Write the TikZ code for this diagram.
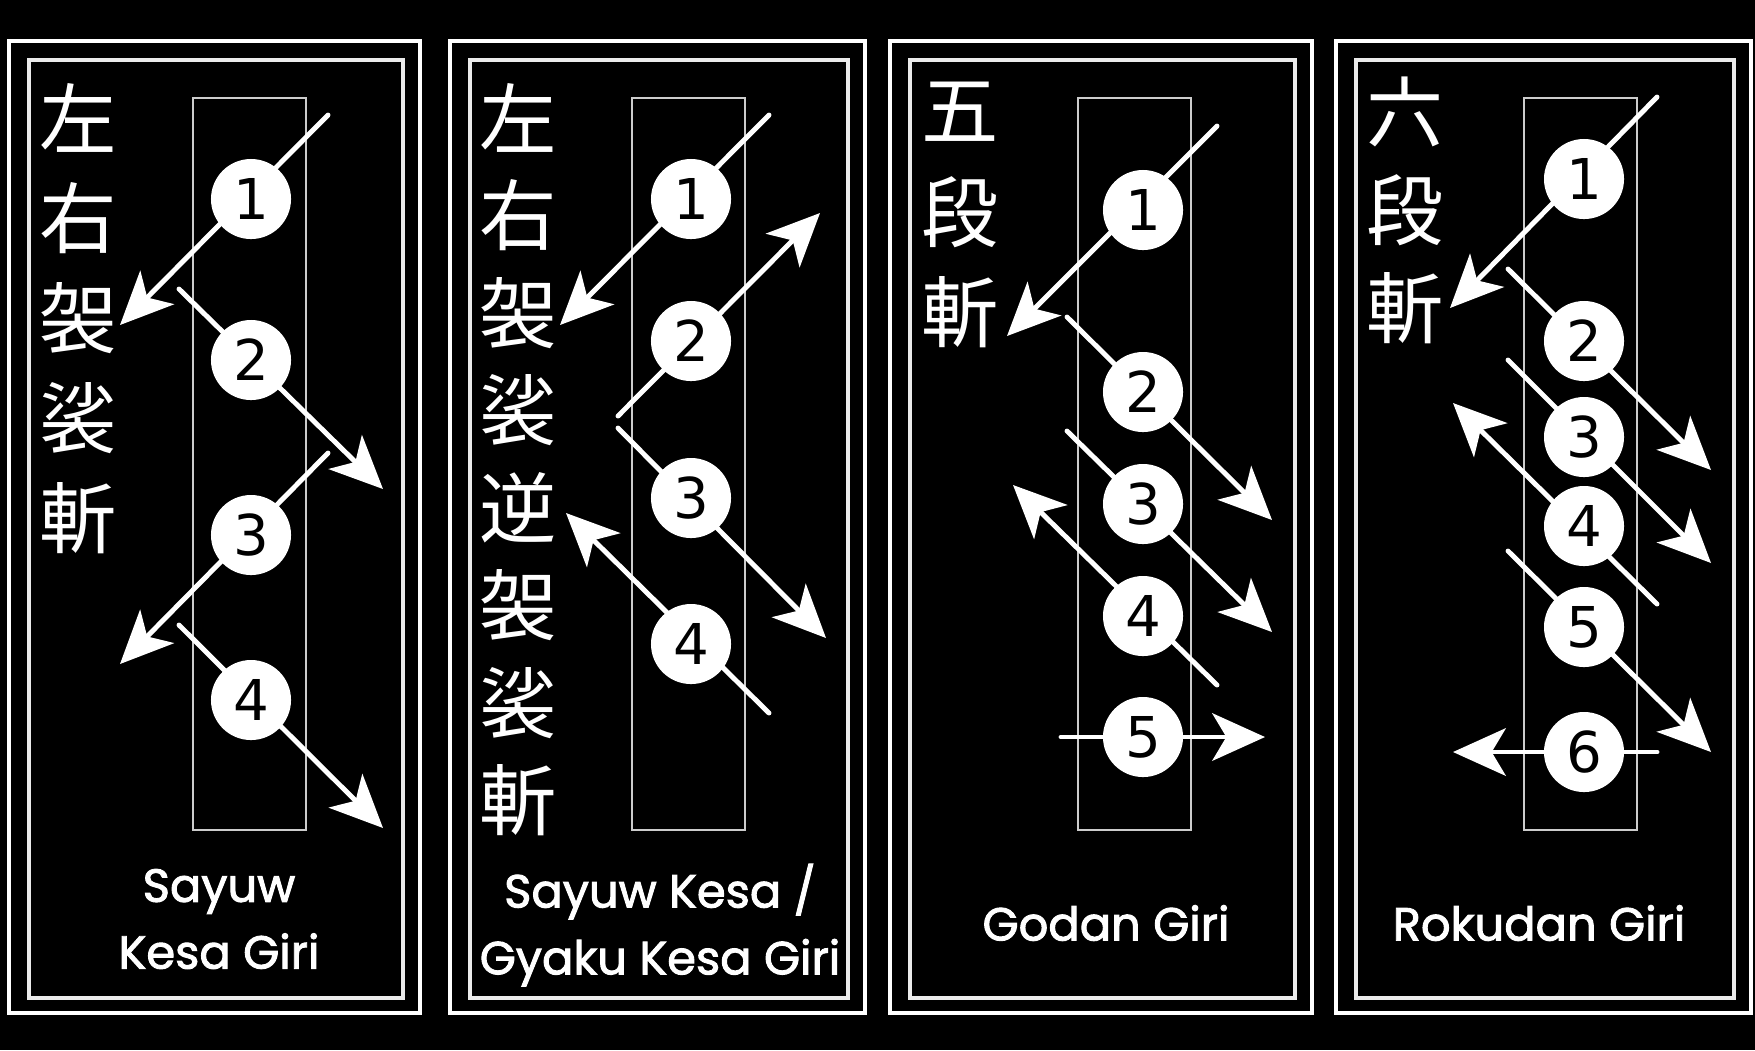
\documentclass[tikz,border=0pt]{standalone}
\usepackage{fontspec}
\newfontfamily\kanjifont{Noto Sans CJK JP}
\newfontfamily\titlefont[FakeBold=2]{Poppins}
\newfontfamily\numfont{DejaVu Sans}
\usepackage{tikz}
\usetikzlibrary{arrows.meta, calc}

\tikzset{
  frameout/.style={draw=white, line width=1.4pt},
  framein/.style={draw=white!92!black, line width=1pt},
  blade/.style={draw=white!80!black, line width=0.8pt},
  cut/.style={white, line width=1.4pt, line cap=round, -{Stealth[length=15pt, width=13.5pt, inset=4pt]}},
  num/.style={circle, fill=white, inner sep=0pt, minimum size=0.8cm, text=black, font=\numfont\fontsize{16}{16}\selectfont},
  kanji/.style={text=white, inner sep=0pt, font=\kanjifont\fontsize{22}{22}\selectfont},
  title/.style={text=white, align=center, inner sep=0pt, font=\titlefont\fontsize{13.2}{19}\selectfont}
}

\newcommand{\Panel}[3]{%
  % outer frame, inner frame, blade
  \draw[frameout] (#1,41) rectangle (#2,1013);
  \draw[framein] ({#1+20},60) rectangle ({#2-17},998);
  \draw[blade] (#3,98) rectangle ({#3+113},830);
}

\newcommand{\Cut}[5]{%
  % #1 name, #2 centre, #3 step no., #4 from, #5 to
  \coordinate (#1) at (#2);
  \coordinate (#1s) at ($ (#1)+(#4) $);
  \coordinate (#1e) at ($ (#1)+(#5) $);
  \draw[cut] (#1s) -- (#1e);
  \node[num] (#1n) at (#1) {#3};
}

\begin{document}
\begin{tikzpicture}[x=0.01cm, y=-0.01cm]

	\fill[black] (0,0) rectangle (1755,1050);
	\useasboundingbox (0,0) rectangle (1755,1050);

	\Panel{9}{420}{193}
	\Panel{450}{865}{632}
	\Panel{890}{1312}{1078}
	\Panel{1336}{1751}{1524}

	% kanji columns
	\foreach \k [count=\i] in {左,右,袈,裟,斬}
		\node[kanji] (ka\i) at (78,{118+100*(\i-1)}) {\k};
	\foreach \k [count=\i] in {左,右,袈,裟,逆,袈,裟,斬}
		\node[kanji] (kb\i) at (518,{118+97.5*(\i-1)}) {\k};
	\foreach \k [count=\i] in {五,段,斬}
		\node[kanji] (kc\i) at (960,{112+100*(\i-1)}) {\k};
	\foreach \k [count=\i] in {六,段,斬}
		\node[kanji] (kd\i) at (1405,{112+98*(\i-1)}) {\k};

	% Sayuw Kesa Giri
	\Cut{a1}{251,199}{1}{77,-84}{-131,126}
	\Cut{a2}{251,360}{2}{-72,-71}{132,129}
	\Cut{a3}{251,535}{3}{77,-82}{-131,129}
	\Cut{a4}{251,700}{4}{-72,-75}{132,128}

	% Sayuw Kesa / Gyaku Kesa Giri
	\Cut{b1}{691,199}{1}{78,-84}{-131,126}
	\Cut{b2}{691,341}{2}{-73,75}{129,-128}
	\Cut{b3}{691,498}{3}{-73,-70}{135,140}
	\Cut{b4}{691,644}{4}{78,69}{-125,-131}

	% Godan Giri
	\Cut{c1}{1143,210}{1}{74,-84}{-136,126}
	\Cut{c2}{1143,392}{2}{-76,-75}{129,128}
	\Cut{c3}{1143,504}{3}{-76,-73}{129,128}
	\Cut{c4}{1143,616}{4}{74,69}{-130,-131}
	\Cut{c5}{1143,737}{5}{-82,0}{122,0}

	% Rokudan Giri
	\Cut{d1}{1584,179}{1}{73,-82}{-134,129}
	\Cut{d2}{1584,341}{2}{-76,-72}{127,129}
	\Cut{d3}{1584,437}{3}{-76,-77}{127,126}
	\Cut{d4}{1584,526}{4}{73,78}{-131,-123}
	\Cut{d5}{1584,627}{5}{-76,-76}{127,125}
	\Cut{d6}{1584,752}{6}{73,0}{-131,0}

	\node[title] (ta) at (219,919) {Sayuw\\Kesa Giri};
	\node[title] (tb) at (660,925) {Sayuw Kesa /\\Gyaku Kesa Giri};
	\node[title] (tc) at (1106,923) {Godan Giri};
	\node[title] (td) at (1539,923) {Rokudan Giri};

\end{tikzpicture}
\end{document}
